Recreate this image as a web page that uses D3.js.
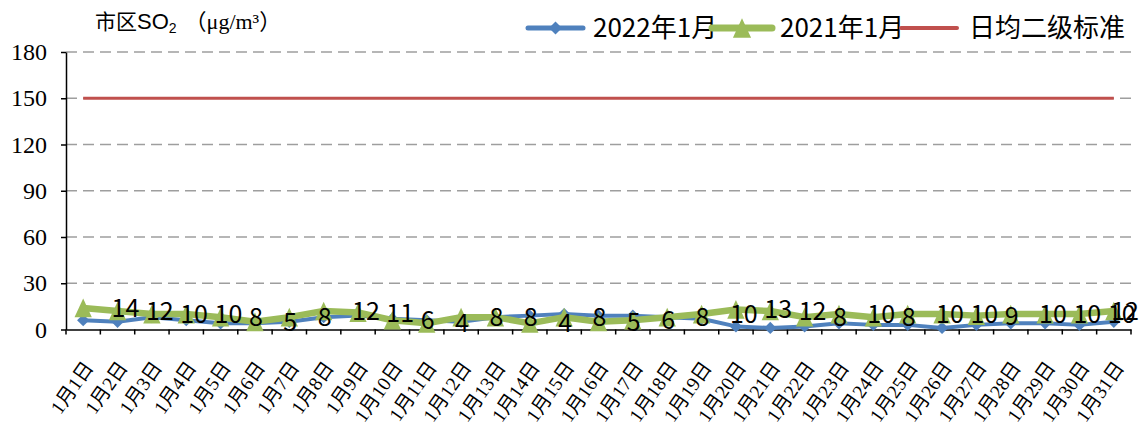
<!DOCTYPE html>
<html><head><meta charset="utf-8">
<script src="https://cdn.jsdelivr.net/npm/d3@7"></script>
<style>body{margin:0;background:#fff;} svg{display:block;}</style>
</head><body>
<svg id="chart" width="1148" height="427"></svg>
<script>
// ---------- data ----------
const categories = ["1月1日","1月2日","1月3日","1月4日","1月5日","1月6日","1月7日","1月8日","1月9日","1月10日",
  "1月11日","1月12日","1月13日","1月14日","1月15日","1月16日","1月17日","1月18日","1月19日","1月20日",
  "1月21日","1月22日","1月23日","1月24日","1月25日","1月26日","1月27日","1月28日","1月29日","1月30日","1月31日"];
const values2022 = [6,5,8,6,4,4,5,8,9,7,6,5,8,9,10,9,9,8,7,2,1,2,4,3,3,1,3,4,4,3,5];
const values2021 = [14,12,10,10,8,5,8,12,11,6,4,8,8,4,8,5,6,8,10,13,12,8,10,8,10,10,9,10,10,10,12];
const standardLevel = 150;
const yTicks = [0,30,60,90,120,150,180];
const seriesNames = ["2022年1月","2021年1月","日均二级标准"];
const axisTitle = ["市区","SO","2","（μg/m³）"];

// ---------- setup ----------
const svg = d3.select("#chart");
const plotL = 66, plotR = 1131, plotB = 329.5, plotT = 52;
const x = d3.scaleBand().domain(categories).range([plotL, plotR]);
const y = d3.scaleLinear().domain([0, 180]).range([plotB, plotT]);
const cx = c => x(c) + x.bandwidth() / 2;

const blue = "#4f81bd", green = "#9bbb59", red = "#c0504d";
const sansNarrow = "'Liberation Sans Narrow','Noto Sans CJK SC',sans-serif";
const serif = "'Liberation Serif','Noto Sans CJK SC',serif";

const diamond = {draw(ctx, size){ const r = Math.sqrt(size)/2; ctx.moveTo(0,-r); ctx.lineTo(r,0); ctx.lineTo(0,r); ctx.lineTo(-r,0); ctx.closePath(); }};
const triangle = {draw(ctx, size){ const w = Math.sqrt(size), h = w*1.08; ctx.moveTo(0,-h/2); ctx.lineTo(w/2,h/2); ctx.lineTo(-w/2,h/2); ctx.closePath(); }};

// ---------- gridlines ----------
svg.append("g").selectAll("line").data(yTicks.filter(t => t > 0)).join("line")
  .attr("x1", plotL).attr("x2", plotR).attr("y1", d => y(d)).attr("y2", d => y(d))
  .attr("stroke", "#9e9e9e").attr("stroke-width", 1.6).attr("stroke-dasharray", "11,6");

// ---------- y axis ----------
const yAxis = svg.append("g").attr("transform", `translate(${plotL},0)`)
  .call(d3.axisLeft(y).tickValues(yTicks).tickSize(5).tickPadding(14).tickSizeOuter(0));
yAxis.select(".domain").attr("stroke", "#000").attr("stroke-width", 1.5);
yAxis.selectAll(".tick line").attr("stroke", "#000").attr("stroke-width", 1.5);
yAxis.selectAll(".tick text").attr("font-family", serif).attr("font-size", 24).attr("fill", "#000");

// ---------- x axis ----------
const xAxis = svg.append("g").attr("transform", `translate(0,${plotB})`)
  .call(d3.axisBottom(x).tickSize(0).tickSizeOuter(0).tickFormat(""));
xAxis.select(".domain").attr("stroke", "#000").attr("stroke-width", 1.5);
const bounds = categories.map(c => x(c)).concat([plotR]);
svg.append("g").selectAll("line").data(bounds).join("line")
  .attr("x1", d => d).attr("x2", d => d).attr("y1", plotB).attr("y2", plotB + 5)
  .attr("stroke", "#000").attr("stroke-width", 1.5);
svg.append("g").selectAll("text").data(categories).join("text")
  .attr("transform", d => `translate(${cx(d) + 11},${plotB + 38}) rotate(-55)`)
  .attr("text-anchor", "end")
  .attr("font-family", serif).attr("font-size", 19.5).attr("fill", "#000")
  .text(d => d);

// ---------- series ----------
const line = vals => d3.line().x((d, i) => cx(categories[i])).y(d => y(d))(vals);

svg.append("path").attr("d", line(values2022)).attr("fill", "none")
  .attr("stroke", blue).attr("stroke-width", 4).attr("stroke-linejoin", "round");
svg.append("g").selectAll("path").data(values2022).join("path")
  .attr("transform", (d, i) => `translate(${cx(categories[i])},${y(d)})`)
  .attr("d", d3.symbol(diamond, 150)()).attr("fill", blue);

svg.append("path").attr("d", line(values2021)).attr("fill", "none")
  .attr("stroke", green).attr("stroke-width", 6.5).attr("stroke-linejoin", "round");
svg.append("g").selectAll("path").data(values2021).join("path")
  .attr("transform", (d, i) => `translate(${cx(categories[i])},${y(d)})`)
  .attr("d", d3.symbol(triangle, 300)()).attr("fill", green);

svg.append("path").attr("d", line(categories.map(() => standardLevel))).attr("fill", "none")
  .attr("stroke", red).attr("stroke-width", 3);

// data labels (2021)
const lbl = svg.append("g").selectAll("text").data(values2021).join("text")
  .attr("font-family", sansNarrow).attr("font-size", 25).attr("fill", "#000")
  .attr("y", d => y(d)).attr("dy", "0.36em")
  .text(d => d);
lbl.each(function(d, i){
  const w = this.getComputedTextLength();
  const pos = Math.min(cx(categories[i]) + x.step() - 6, plotR + 8 - w);
  d3.select(this).attr("x", pos);
});

// ---------- axis title ----------
const t = svg.append("text").attr("x", 95).attr("y", 29).attr("fill", "#000");
t.append("tspan").attr("font-family", "'Noto Sans CJK SC',sans-serif").attr("font-size", 21).text(axisTitle[0]);
t.append("tspan").attr("font-family", "'Liberation Sans',sans-serif").attr("font-size", 22).text(axisTitle[1]);
t.append("tspan").attr("font-family", "'Liberation Sans',sans-serif").attr("font-size", 14).attr("dy", 4).text(axisTitle[2]);
t.append("tspan").attr("font-family", serif).attr("font-size", 22).attr("dy", -4).attr("dx", 8).text(axisTitle[3]);

// ---------- legend ----------
const legend = svg.append("g").attr("transform", "translate(0,28)");
const items = [
  {name: seriesNames[0], color: blue, sym: diamond, size: 170, w: 5, x0: 528, x1: 583, tx: 593},
  {name: seriesNames[1], color: green, sym: triangle, size: 330, w: 7, x0: 712, x1: 772, tx: 780},
  {name: seriesNames[2], color: red, sym: null, w: 4, x0: 901, x1: 957, tx: 969}
];
items.forEach(it => {
  legend.append("line").attr("x1", it.x0).attr("x2", it.x1).attr("y1", 0).attr("y2", 0)
    .attr("stroke", it.color).attr("stroke-width", it.w).attr("stroke-linecap", "round");
  if (it.sym) legend.append("path").attr("transform", `translate(${(it.x0 + it.x1) / 2},0)`)
    .attr("d", d3.symbol(it.sym, it.size)()).attr("fill", it.color);
  legend.append("text").attr("x", it.tx).attr("y", 0).attr("dy", "0.36em")
    .attr("font-family", sansNarrow).attr("font-size", 26).attr("fill", "#000").text(it.name);
});
</script>
</body></html>
